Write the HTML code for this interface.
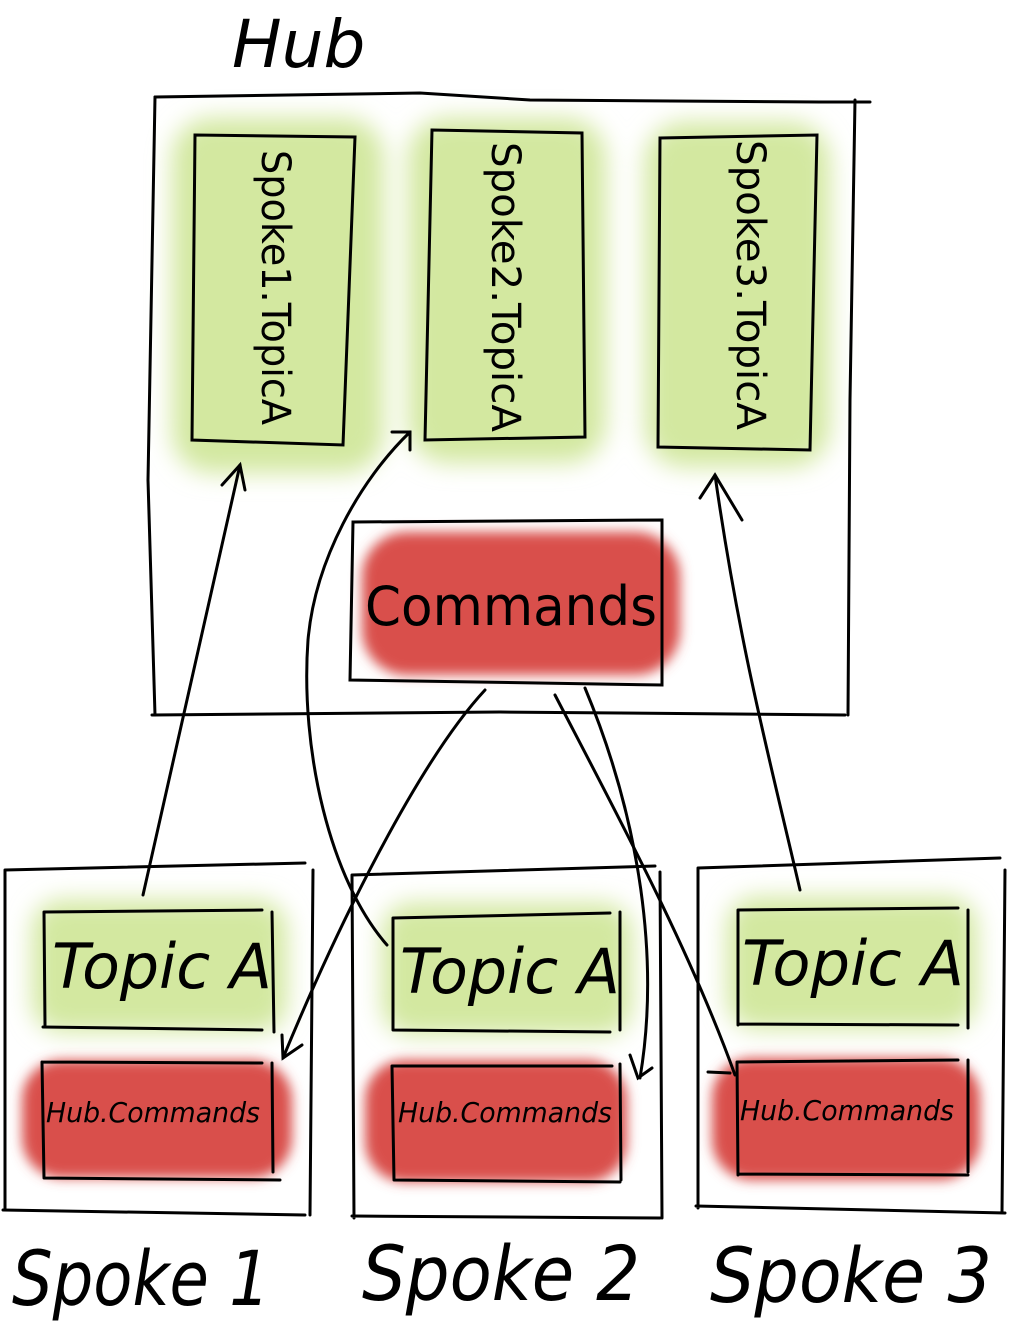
<!DOCTYPE html>
<html><head><meta charset="utf-8"><style>
html,body{margin:0;padding:0;background:#fff;}
svg{display:block}
text{font-family:"DejaVu Sans","Liberation Sans",sans-serif;fill:#000}
</style></head><body>
<svg width="1016" height="1335" viewBox="0 0 1016 1335" xmlns="http://www.w3.org/2000/svg">
<defs>
<filter id="b" x="-30%" y="-30%" width="160%" height="160%"><feGaussianBlur stdDeviation="12"/></filter>
<filter id="b2" x="-20%" y="-20%" width="140%" height="140%"><feGaussianBlur stdDeviation="6"/></filter>
</defs>
<g filter="url(#b)" fill="#d3e8a0">
<rect x="172" y="118" width="212" height="355" rx="40"/>
<rect x="408" y="118" width="198" height="345" rx="40"/>
<rect x="645" y="122" width="185" height="345" rx="40"/>
<rect x="32" y="900" width="255" height="132" rx="30"/>
<rect x="382" y="903" width="250" height="132" rx="30"/>
<rect x="727" y="897" width="250" height="132" rx="30"/>
</g>
<g filter="url(#b2)" fill="#d9504c">
<rect x="362" y="532" width="318" height="143" rx="45"/>
<rect x="22" y="1060" width="270" height="118" rx="40"/>
<rect x="365" y="1060" width="262" height="122" rx="40"/>
<rect x="712" y="1058" width="268" height="122" rx="40"/>
</g>
<g fill="none" stroke="#000" stroke-width="3" stroke-linecap="round">
<path d="M155 97 L420 93 L530 100 L820 102 L870 102"/>
<path d="M155 97 L148 480 L155 715"/>
<path d="M855 100 L850 400 L848 715"/>
<path d="M152 715 L500 712 L845 715"/>
<path d="M195 135 L355 137 L343 445 L192 440 Z"/>
<path d="M432 130 L582 133 L585 437 L425 440 Z"/>
<path d="M660 138 L817 135 L810 450 L658 447 Z"/>
<path d="M353 522 L662 520 L662 685 L350 680 Z"/>
<path d="M5 870 L305 863 M5 870 L5 1210 M313 870 L310 1215 M3 1210 L305 1215"/>
<path d="M352 875 L655 866 M352 875 L354 1218 M660 872 L662 1218 M352 1216 L660 1218"/>
<path d="M698 868 L1000 858 M698 868 L698 1208 M1005 870 L1002 1213 M696 1206 L1005 1213"/>
<path d="M44 912 L262 910 M44 912 L45 1025 M272 912 L274 1032 M43 1027 L262 1030"/>
<path d="M393 918 L610 913 M393 918 L393 1030 M620 912 L620 1030 M393 1030 L610 1032"/>
<path d="M738 910 L958 908 M738 910 L738 1025 M968 910 L968 1028 M738 1024 L958 1025"/>
<path d="M42 1062 L262 1063 M42 1062 L44 1178 M272 1063 L273 1172 M44 1178 L280 1180"/>
<path d="M392 1066 L612 1066 M392 1066 L394 1180 M620 1064 L621 1180 M394 1180 L620 1182"/>
<path d="M737 1062 L958 1060 M737 1062 L738 1175 M968 1060 L968 1172 M738 1174 L968 1175"/>
<path d="M143 895 L240 465"/><path d="M222 485 L240 465 L245 490"/>
<path d="M387 945 C330 880 300 750 308 640 C315 560 360 480 410 432"/><path d="M392 432 L410 432 L410 450"/>
<path d="M800 890 C770 760 740 650 715 475"/><path d="M700 498 L715 475 L742 520"/>
<path d="M485 690 C420 760 340 920 283 1058"/><path d="M282 1035 L283 1058 L302 1045"/>
<path d="M585 688 C640 820 660 960 640 1078"/><path d="M630 1055 L638 1078 L652 1068"/>
<path d="M555 695 C620 820 690 950 735 1075"/><path d="M708 1072 L730 1073"/>
</g>
<text x="232" y="67" font-size="66" font-style="italic">Hub</text>
<text transform="translate(262,150) rotate(90)" font-size="40" textLength="275" lengthAdjust="spacingAndGlyphs">Spoke1.TopicA</text>
<text transform="translate(492,142) rotate(90)" font-size="40" textLength="290" lengthAdjust="spacingAndGlyphs">Spoke2.TopicA</text>
<text transform="translate(737,140) rotate(90)" font-size="40" textLength="290" lengthAdjust="spacingAndGlyphs">Spoke3.TopicA</text>
<text x="365" y="625" font-size="54" textLength="292" lengthAdjust="spacingAndGlyphs">Commands</text>
<text x="52" y="988" font-size="62" font-style="italic" textLength="220" lengthAdjust="spacingAndGlyphs">Topic A</text>
<text x="400" y="993" font-size="62" font-style="italic" textLength="220" lengthAdjust="spacingAndGlyphs">Topic A</text>
<text x="742" y="985" font-size="62" font-style="italic" textLength="222" lengthAdjust="spacingAndGlyphs">Topic A</text>
<text x="46" y="1122" font-size="28" font-style="italic" textLength="214" lengthAdjust="spacingAndGlyphs">Hub.Commands</text>
<text x="398" y="1122" font-size="28" font-style="italic" textLength="214" lengthAdjust="spacingAndGlyphs">Hub.Commands</text>
<text x="740" y="1120" font-size="28" font-style="italic" textLength="214" lengthAdjust="spacingAndGlyphs">Hub.Commands</text>
<text x="12" y="1305" font-size="76" font-style="italic" textLength="258" lengthAdjust="spacingAndGlyphs">Spoke 1</text>
<text x="362" y="1300" font-size="76" font-style="italic" textLength="278" lengthAdjust="spacingAndGlyphs">Spoke 2</text>
<text x="710" y="1302" font-size="76" font-style="italic" textLength="282" lengthAdjust="spacingAndGlyphs">Spoke 3</text>
</svg>
</body></html>
